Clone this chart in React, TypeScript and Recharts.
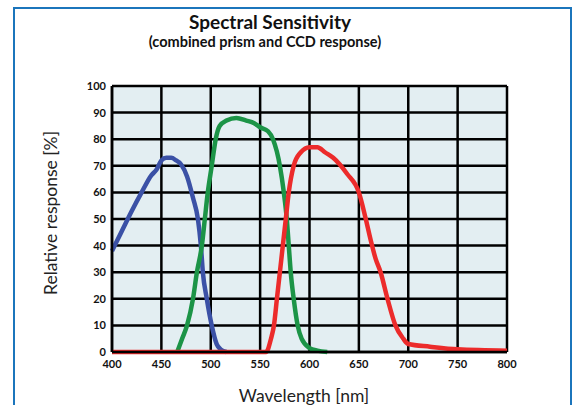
import React from "react";
import {
  LineChart,
  Line,
  XAxis,
  YAxis,
  CartesianGrid,
} from "recharts";

// wavelength ticks (nm) and response ticks (%)
const xTicks = [400, 450, 500, 550, 600, 650, 700, 750, 800];
const yTicks = [0, 10, 20, 30, 40, 50, 60, 70, 80, 90, 100];
const minorTicks = Array.from({ length: 101 }, (_, i) => i);

// blue channel
const blueNm = [400, 410, 420, 430, 440, 445, 450, 455, 460, 465, 470, 476, 482, 487, 490, 492, 496, 501, 506, 510, 516];
const blueResp = [38, 45.5, 53, 60, 66.5, 68.5, 72, 73, 73, 72, 70.5, 66, 58, 50, 40, 30, 20, 10, 3, 1, 0];

// green channel
const greenNm = [466, 471, 476, 482, 486, 491, 494, 497, 501, 505, 509, 516, 526, 536, 544, 550, 558, 563, 570, 574, 577, 579, 581, 584, 588, 592, 600, 608, 618];
const greenResp = [0, 5, 10, 20, 30, 40, 50, 60, 70, 80, 85, 87, 88, 87, 86, 84.5, 83, 80, 70, 60, 50, 40, 30, 20, 10, 5, 1.5, 0.5, 0];

// red channel
const redNm = [400, 556, 561, 564, 567, 570, 573, 576, 579, 584, 591, 600, 608, 616, 624, 638, 650, 657, 662, 667, 672, 679, 687, 695, 700, 722, 750, 800];
const redResp = [0, 0, 5, 10, 20, 30, 40, 50, 60, 70, 75, 77, 77, 75, 73, 67, 60, 50, 42, 35, 30, 20, 10, 5, 3, 2, 1, 0.5];

const zip = (nm: number[], resp: number[]) =>
  nm.map((n, i) => ({ nm: n, resp: resp[i] }));

const blueData = zip(blueNm, blueResp);
const greenData = zip(greenNm, greenResp);
const redData = zip(redNm, redResp);

const font = "Lato, 'Open Sans', sans-serif";
const tickStyle = { fontSize: 11, fontWeight: 700, fill: "#111", fontFamily: font };

export default function App() {
  return (
    <div
      style={{
        position: "absolute",
        left: 0,
        top: 0,
        width: 577,
        height: 405,
        overflow: "hidden",
        background: "#fff",
      }}
    >
      <div
        style={{
          position: "absolute",
          left: 13,
          top: 7,
          width: 559,
          height: 500,
          boxSizing: "border-box",
          border: "2px solid #1b75bc",
        }}
      />
      <LineChart
        width={577}
        height={405}
        margin={{ top: 86, right: 70, bottom: 33, left: 82 }}
        style={{ position: "absolute", left: 0, top: 0 }}
      >
        <CartesianGrid fill="#e3eef2" stroke="#000" strokeWidth={2.5} />
        <XAxis
          dataKey="nm"
          type="number"
          domain={[400, 800]}
          ticks={xTicks}
          height={20}
          tickLine={false}
          axisLine={{ stroke: "#000", strokeWidth: 2.5 }}
          tick={tickStyle}
          allowDuplicatedCategory={false}
        />
        <YAxis
          type="number"
          domain={[0, 100]}
          ticks={yTicks}
          width={30}
          tickLine={false}
          tickMargin={0}
          axisLine={{ stroke: "#000", strokeWidth: 2.5 }}
          tick={tickStyle}
        />
        <YAxis
          yAxisId="minor"
          type="number"
          domain={[0, 100]}
          ticks={minorTicks}
          mirror
          tick={false}
          axisLine={false}
          tickSize={3}
          tickLine={{ stroke: "#000", strokeWidth: 1 }}
          interval={0}
        />
        <Line data={blueData} dataKey="resp" type="monotone" stroke="#3b51a6" strokeWidth={4.5} dot={false} isAnimationActive={false} />
        <Line data={greenData} dataKey="resp" type="monotone" stroke="#1c9447" strokeWidth={4.5} dot={false} isAnimationActive={false} />
        <Line data={redData} dataKey="resp" type="monotone" stroke="#ec2b2b" strokeWidth={4.5} dot={false} isAnimationActive={false} />
      </LineChart>
      <svg
        width={577}
        height={405}
        style={{ position: "absolute", left: 0, top: 0, pointerEvents: "none" }}
      >
        <text x={270} y={29} textAnchor="middle" fontFamily={font} fontWeight={700} fontSize={19} fill="#111">
          Spectral Sensitivity
        </text>
        <text x={265} y={47} textAnchor="middle" fontFamily={font} fontWeight={700} fontSize={14.5} fill="#111">
          (combined prism and CCD response)
        </text>
        <text
          transform="translate(57,213) rotate(-90)"
          textAnchor="middle"
          fontFamily={font}
          fontSize={17.5}
          fill="#222"
        >
          Relative response [%]
        </text>
        <text x={304} y={402} textAnchor="middle" fontFamily={font} fontSize={17.5} fill="#222">
          Wavelength [nm]
        </text>
      </svg>
    </div>
  );
}
